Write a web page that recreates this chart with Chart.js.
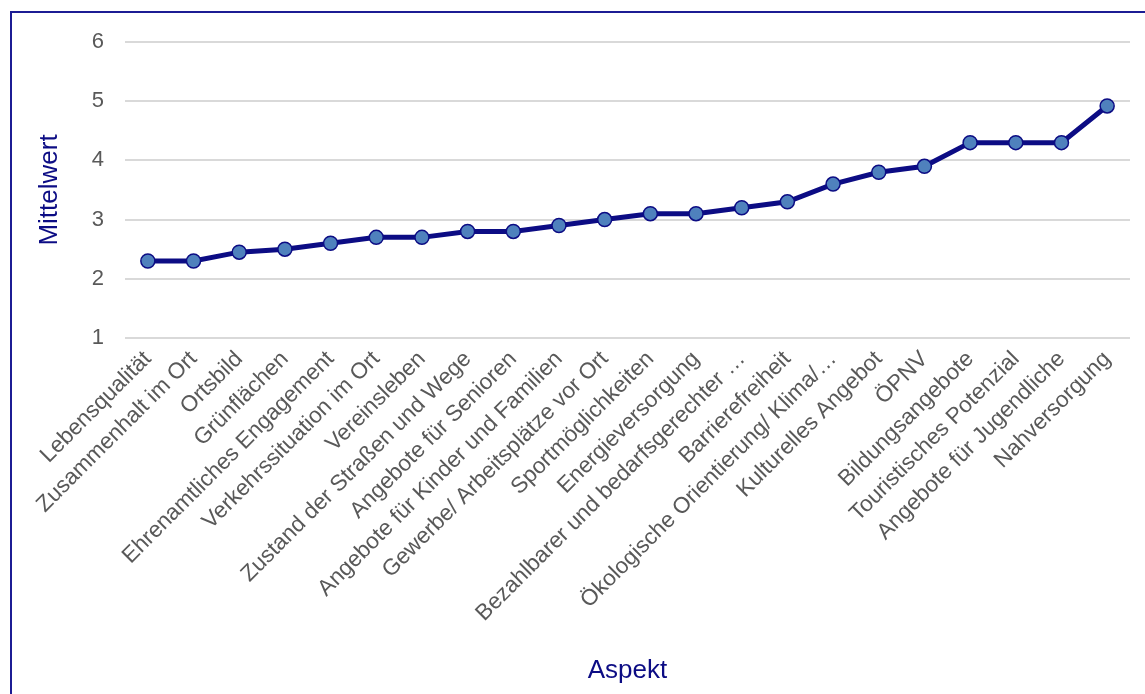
<!DOCTYPE html>
<html>
<head>
<meta charset="utf-8">
<script src="https://cdn.jsdelivr.net/npm/chart.js@4"></script>
<style>
  html, body { margin: 0; padding: 0; background: #fff; overflow: hidden; }
  #wrap { position: relative; width: 1145px; height: 694px; }
  #frame {
    position: absolute; left: 10px; top: 11px; width: 1200px; height: 800px;
    border: 2px solid #1c1c94; pointer-events: none;
  }
  canvas { position: absolute; left: 0; top: 0; }
</style>
</head>
<body>
<div id="wrap">
  <canvas id="chart" width="1145" height="694"></canvas>
  <div id="frame"></div>
</div>
<script>
// Aspekte, aufsteigend nach Mittelwert
const aspects = [
  'Lebensqualität',
  'Zusammenhalt im Ort',
  'Ortsbild',
  'Grünflächen',
  'Ehrenamtliches Engagement',
  'Verkehrssituation im Ort',
  'Vereinsleben',
  'Zustand der Straßen und Wege',
  'Angebote für Senioren',
  'Angebote für Kinder und Familien',
  'Gewerbe/ Arbeitsplätze vor Ort',
  'Sportmöglichkeiten',
  'Energieversorgung',
  'Bezahlbarer und bedarfsgerechter …',
  'Barrierefreiheit',
  'Ökologische Orientierung/ Klima/…',
  'Kulturelles Angebot',
  'ÖPNV',
  'Bildungsangebote',
  'Touristisches Potenzial',
  'Angebote für Jugendliche',
  'Nahversorgung'
];

const means = [
  2.3, 2.3, 2.45, 2.5, 2.6, 2.7, 2.7, 2.8, 2.8, 2.9, 3.0,
  3.1, 3.1, 3.2, 3.3, 3.6, 3.8, 3.9, 4.3, 4.3, 4.3, 4.92
];

const yMin = 1;
const yMax = 6;

const FONT = '"Liberation Sans", Arial, sans-serif';
const NAVY = '#0c0c84';

new Chart(document.getElementById('chart'), {
  type: 'line',
  data: {
    labels: aspects,
    datasets: [{
      label: 'Mittelwert',
      data: means,
      borderColor: NAVY,
      borderWidth: 5,
      pointRadius: 7,
      pointBorderWidth: 1.5,
      pointBackgroundColor: '#4f81bd',
      pointBorderColor: NAVY,
      tension: 0
    }]
  },
  options: {
    responsive: false,
    animation: false,
    layout: { padding: { left: 30, right: 15, top: 42, bottom: 4 } },
    plugins: {
      legend: { display: false },
      tooltip: { enabled: false }
    },
    scales: {
      x: {
        offset: true,
        grid: { display: false },
        border: { display: false },
        ticks: {
          color: '#595959',
          font: { family: FONT, size: 22.5 },
          minRotation: 45,
          maxRotation: 45,
          autoSkip: false,
          padding: 0
        },
        title: {
          display: true,
          text: 'Aspekt',
          color: NAVY,
          font: { family: FONT, size: 26 }
        },
        afterFit: (scale) => { scale.height = 694 - 338 - 4; }
      },
      y: {
        min: yMin,
        max: yMax,
        grid: { color: '#d9d9d9', lineWidth: 2, drawTicks: false },
        border: { display: false },
        ticks: {
          stepSize: 1,
          color: '#595959',
          font: { family: FONT, size: 22 },
          padding: 21
        },
        title: {
          display: true,
          text: 'Mittelwert',
          color: NAVY,
          font: { family: FONT, size: 26 }
        },
        afterFit: (scale) => { scale.width = 125 - 30; }
      }
    }
  }
});
</script>
</body>
</html>
